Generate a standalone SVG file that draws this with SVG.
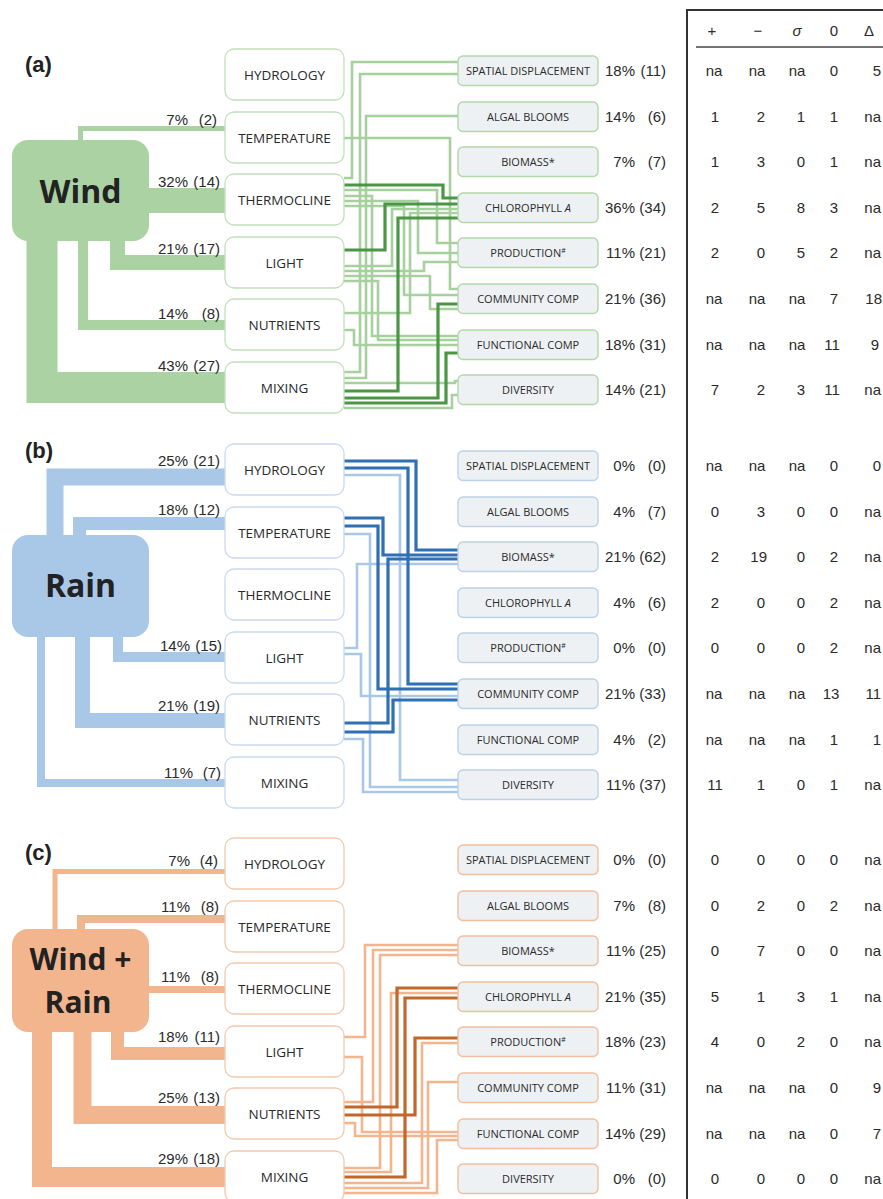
<svg xmlns="http://www.w3.org/2000/svg" width="883" height="1199" viewBox="0 0 883 1199">
<style>
.bg{fill:#ffffff}
.pl{font-family:"Liberation Sans",Arial,sans-serif;font-weight:bold;font-size:22px;fill:#222}
.big{font-family:"Open Sans","Noto Sans",sans-serif;font-weight:bold;fill:#222;text-anchor:middle}
.dn{font-family:"Open Sans","Noto Sans",sans-serif;font-size:13.5px;fill:#2a2a2a;text-anchor:middle}
.rn{font-family:"Open Sans","Noto Sans",sans-serif;font-size:11px;fill:#2a2a2a;text-anchor:middle}
.num{font-family:"Liberation Sans",Arial,sans-serif;font-size:15px;fill:#2a2a2a;text-anchor:end}
.tc{font-family:"Liberation Sans",Arial,sans-serif;font-size:15px;fill:#2a2a2a;text-anchor:middle}
.te{font-family:"Liberation Sans",Arial,sans-serif;font-size:15px;fill:#2a2a2a;text-anchor:end}
.bar{fill:none;stroke-linejoin:miter;stroke-linecap:butt}
.ln{fill:none;stroke-width:2.6;stroke-linejoin:miter}
.dk{fill:none;stroke-width:3.2;stroke-linejoin:miter}
.gA{stroke:#a6d19e}.gD{stroke:#4a9645}
.bA{stroke:#a9c8e8}.bD{stroke:#2f6fb3}
.oA{stroke:#f2b58e}.oD{stroke:#c2672a}
.drvG{fill:#fff;stroke:#c2e0bb;stroke-width:1.3}
.drvB{fill:#fff;stroke:#c8daee;stroke-width:1.3}
.drvO{fill:#fff;stroke:#f3c9ad;stroke-width:1.3}
.resG{fill:#eef1f3;stroke:#b2d8aa;stroke-width:1.4}
.resB{fill:#eef1f3;stroke:#bcd2e8;stroke-width:1.4}
.resO{fill:#eef1f3;stroke:#f0bf9e;stroke-width:1.4}
</style>
<rect class="bg" x="0" y="0" width="883" height="1199"/>

<!-- panel labels -->
<text class="pl" x="25" y="72">(a)</text>
<text class="pl" x="25" y="458">(b)</text>
<text class="pl" x="25" y="860">(c)</text>

<g id="connectors">
<!-- Panel a main bars -->
<g fill="none" stroke="#aad2a2">
<path class="bar" stroke-width="5" d="M80.5,142 V128.5 H227"/>
<path class="bar" stroke-width="25" d="M147,200.5 H227"/>
<path class="bar" stroke-width="15" d="M117.5,239 V262.5 H227"/>
<path class="bar" stroke-width="10" d="M83,239 V325 H227"/>
<path class="bar" stroke-width="31" d="M42,239 V387.5 H227"/>
</g>
<!-- Panel b main bars -->
<g fill="none" stroke="#a9c8e8">
<path class="bar" stroke-width="17" d="M55,537 V477 H227"/>
<path class="bar" stroke-width="13" d="M79.5,537 V523.5 H227"/>
<path class="bar" stroke-width="10" d="M118,635 V657 H227"/>
<path class="bar" stroke-width="15" d="M82.5,635 V720.5 H227"/>
<path class="bar" stroke-width="8" d="M41,635 V783 H227"/>
</g>
<!-- Panel c main bars -->
<g fill="none" stroke="#f2b58e">
<path class="bar" stroke-width="5" d="M55,931 V871.5 H227"/>
<path class="bar" stroke-width="8" d="M81,931 V919 H227"/>
<path class="bar" stroke-width="7" d="M147,989.5 H227"/>
<path class="bar" stroke-width="13" d="M117.5,1030 V1053.5 H227"/>
<path class="bar" stroke-width="18" d="M82.5,1030 V1115 H227"/>
<path class="bar" stroke-width="20" d="M42,1030 V1177 H227"/>
</g>

<!-- Panel a links -->
<g class="ln gA">
<path d="M344,178 H352 V62 H458"/>
<path d="M344,372 H360 V74 H458"/>
<path d="M344,378 H366 V116 H458"/>
<path d="M344,138 H450 V289 H458"/>
<path d="M344,190 H437 V243 H458"/>
<path d="M344,266 H392 V209 H458"/>
<path d="M344,313 H410 V213 H458"/>
<path d="M344,201 H418 V253 H458"/>
<path d="M344,271 H424 V262 H458"/>
<path d="M344,206 H404 V295 H458"/>
<path d="M344,276 H430 V309 H458"/>
<path d="M344,330 H354 V345 H458"/>
<path d="M344,281 H378 V340 H458"/>
<path d="M344,196 H372 V336 H458"/>
<path d="M344,383 H455 V381 H458"/>
<path d="M344,408 H452 V395 H458"/>
</g>
<g class="dk gD">
<path d="M344,185 H443 V198 H458"/>
<path d="M344,250 H385 V204 H458"/>
<path d="M344,391 H398 V218 H458"/>
<path d="M344,398 H438 V304 H458"/>
<path d="M344,403 H446 V353 H458"/>
</g>

<!-- Panel b links -->
<g class="ln bA">
<path d="M344,475 H400 V780 H458"/>
<path d="M344,534 H370 V787 H458"/>
<path d="M344,739 H363 V792 H458"/>
<path d="M344,648 H357 V564 H458"/>
<path d="M344,654 H361 V696 H458"/>
</g>
<g class="dk bD">
<path d="M344,461 H416 V550 H458"/>
<path d="M344,468 H408 V684 H458"/>
<path d="M344,518 H383 V555 H458"/>
<path d="M344,526 H378 V689 H458"/>
<path d="M344,723 H388 V559 H458"/>
<path d="M344,732 H393 V700 H458"/>
</g>

<!-- Panel c links -->
<g class="ln oA">
<path d="M344,1037 H365 V945 H458"/>
<path d="M344,1102 H373 V950 H458"/>
<path d="M344,1168 H380 V955 H458"/>
<path d="M344,1172 H391 V993 H458"/>
<path d="M344,1183 H422 V1043 H458"/>
<path d="M344,1188 H428 V1082 H458"/>
<path d="M344,1193 H437 V1140 H458"/>
<path d="M344,1057 H362 V1132 H458"/>
<path d="M344,1123 H355 V1136 H458"/>
</g>
<g class="dk oD">
<path d="M344,1107 H397 V988 H458"/>
<path d="M344,1115 H415 V1038 H458"/>
<path d="M344,1177 H405 V998 H458"/>
</g>
</g>

<!-- driver (source) boxes -->
<g id="wind"><rect x="12" y="140" width="137" height="101" rx="16" fill="#aad2a2"/><text class="big" x="80.5" y="203" font-size="32">Wind</text></g>
<g id="rain"><rect x="12" y="535" width="137" height="102" rx="16" fill="#a9c8e8"/><text class="big" x="80.5" y="597" font-size="32">Rain</text></g>
<g id="windrain"><rect x="12" y="929" width="137" height="103" rx="16" fill="#f2b58e"/><text class="big" x="80.5" y="970" font-size="30">Wind +</text><text class="big" x="78" y="1013" font-size="30">Rain</text></g>

<!-- bar labels -->
<g id="labels-a">
<text class="num" x="188" y="125">7%</text><text class="num" x="217" y="125">(2)</text>
<text class="num" x="188" y="187">32%</text><text class="num" x="220" y="187">(14)</text>
<text class="num" x="188" y="254">21%</text><text class="num" x="220" y="254">(17)</text>
<text class="num" x="188" y="319">14%</text><text class="num" x="220" y="319">(8)</text>
<text class="num" x="188" y="371">43%</text><text class="num" x="220" y="371">(27)</text>
</g>
<g id="labels-b">
<text class="num" x="188" y="466">25%</text><text class="num" x="220" y="466">(21)</text>
<text class="num" x="188" y="515">18%</text><text class="num" x="220" y="515">(12)</text>
<text class="num" x="190" y="651">14%</text><text class="num" x="222" y="651">(15)</text>
<text class="num" x="188" y="711">21%</text><text class="num" x="220" y="711">(19)</text>
<text class="num" x="193" y="778">11%</text><text class="num" x="221" y="778">(7)</text>
</g>
<g id="labels-c">
<text class="num" x="190" y="866">7%</text><text class="num" x="218" y="866">(4)</text>
<text class="num" x="190" y="912">11%</text><text class="num" x="219" y="912">(8)</text>
<text class="num" x="190" y="982">11%</text><text class="num" x="219" y="982">(8)</text>
<text class="num" x="188" y="1042">18%</text><text class="num" x="220" y="1042">(11)</text>
<text class="num" x="188" y="1103">25%</text><text class="num" x="220" y="1103">(13)</text>
<text class="num" x="188" y="1164">29%</text><text class="num" x="220" y="1164">(18)</text>
</g>

<!-- Panel a drivers -->
<g id="a-hydrology"><rect class="drvG" x="225" y="49" width="119" height="51" rx="9"/><text class="dn" x="284.5" y="79.5">HYDROLOGY</text></g>
<g id="a-temperature"><rect class="drvG" x="225" y="112" width="119" height="51" rx="9"/><text class="dn" x="284.5" y="142.5">TEMPERATURE</text></g>
<g id="a-thermocline"><rect class="drvG" x="225" y="174" width="119" height="51" rx="9"/><text class="dn" x="284.5" y="204.5">THERMOCLINE</text></g>
<g id="a-light"><rect class="drvG" x="225" y="237" width="119" height="51" rx="9"/><text class="dn" x="284.5" y="267.5">LIGHT</text></g>
<g id="a-nutrients"><rect class="drvG" x="225" y="299" width="119" height="51" rx="9"/><text class="dn" x="284.5" y="329.5">NUTRIENTS</text></g>
<g id="a-mixing"><rect class="drvG" x="225" y="362" width="119" height="51" rx="9"/><text class="dn" x="284.5" y="392.5">MIXING</text></g>

<!-- Panel b drivers -->
<g id="b-hydrology"><rect class="drvB" x="225" y="444" width="119" height="51" rx="9"/><text class="dn" x="284.5" y="474.5">HYDROLOGY</text></g>
<g id="b-temperature"><rect class="drvB" x="225" y="507" width="119" height="51" rx="9"/><text class="dn" x="284.5" y="537.5">TEMPERATURE</text></g>
<g id="b-thermocline"><rect class="drvB" x="225" y="569" width="119" height="51" rx="9"/><text class="dn" x="284.5" y="599.5">THERMOCLINE</text></g>
<g id="b-light"><rect class="drvB" x="225" y="632" width="119" height="51" rx="9"/><text class="dn" x="284.5" y="662.5">LIGHT</text></g>
<g id="b-nutrients"><rect class="drvB" x="225" y="694" width="119" height="51" rx="9"/><text class="dn" x="284.5" y="724.5">NUTRIENTS</text></g>
<g id="b-mixing"><rect class="drvB" x="225" y="757" width="119" height="51" rx="9"/><text class="dn" x="284.5" y="787.5">MIXING</text></g>

<!-- Panel c drivers -->
<g id="c-hydrology"><rect class="drvO" x="225" y="838" width="119" height="51" rx="9"/><text class="dn" x="284.5" y="868.5">HYDROLOGY</text></g>
<g id="c-temperature"><rect class="drvO" x="225" y="901" width="119" height="51" rx="9"/><text class="dn" x="284.5" y="931.5">TEMPERATURE</text></g>
<g id="c-thermocline"><rect class="drvO" x="225" y="963" width="119" height="51" rx="9"/><text class="dn" x="284.5" y="993.5">THERMOCLINE</text></g>
<g id="c-light"><rect class="drvO" x="225" y="1026" width="119" height="51" rx="9"/><text class="dn" x="284.5" y="1056.5">LIGHT</text></g>
<g id="c-nutrients"><rect class="drvO" x="225" y="1088" width="119" height="51" rx="9"/><text class="dn" x="284.5" y="1118.5">NUTRIENTS</text></g>
<g id="c-mixing"><rect class="drvO" x="225" y="1151" width="119" height="51" rx="9"/><text class="dn" x="284.5" y="1181.5">MIXING</text></g>

<!-- Panel a responses -->
<g id="a-spatial"><rect class="resG" x="458" y="56" width="140" height="29.5" rx="5"/><text class="rn" x="528" y="75">SPATIAL DISPLACEMENT</text></g>
<g id="a-algal"><rect class="resG" x="458" y="102" width="140" height="29.5" rx="5"/><text class="rn" x="528" y="121">ALGAL BLOOMS</text></g>
<g id="a-biomass"><rect class="resG" x="458" y="147" width="140" height="29.5" rx="5"/><text class="rn" x="528" y="166">BIOMASS*</text></g>
<g id="a-chl"><rect class="resG" x="458" y="193" width="140" height="29.5" rx="5"/><text class="rn" x="528" y="212">CHLOROPHYLL <tspan font-style="italic">A</tspan></text></g>
<g id="a-prod"><rect class="resG" x="458" y="238" width="140" height="29.5" rx="5"/><text class="rn" x="528" y="257">PRODUCTION<tspan font-size="7" dy="-4">#</tspan></text></g>
<g id="a-comm"><rect class="resG" x="458" y="284" width="140" height="29.5" rx="5"/><text class="rn" x="528" y="303">COMMUNITY COMP</text></g>
<g id="a-func"><rect class="resG" x="458" y="330" width="140" height="29.5" rx="5"/><text class="rn" x="528" y="349">FUNCTIONAL COMP</text></g>
<g id="a-div"><rect class="resG" x="458" y="375" width="140" height="29.5" rx="5"/><text class="rn" x="528" y="394">DIVERSITY</text></g>

<!-- Panel b responses -->
<g id="b-spatial"><rect class="resB" x="458" y="451" width="140" height="29.5" rx="5"/><text class="rn" x="528" y="470">SPATIAL DISPLACEMENT</text></g>
<g id="b-algal"><rect class="resB" x="458" y="497" width="140" height="29.5" rx="5"/><text class="rn" x="528" y="516">ALGAL BLOOMS</text></g>
<g id="b-biomass"><rect class="resB" x="458" y="542" width="140" height="29.5" rx="5"/><text class="rn" x="528" y="561">BIOMASS*</text></g>
<g id="b-chl"><rect class="resB" x="458" y="588" width="140" height="29.5" rx="5"/><text class="rn" x="528" y="607">CHLOROPHYLL <tspan font-style="italic">A</tspan></text></g>
<g id="b-prod"><rect class="resB" x="458" y="633" width="140" height="29.5" rx="5"/><text class="rn" x="528" y="652">PRODUCTION<tspan font-size="7" dy="-4">#</tspan></text></g>
<g id="b-comm"><rect class="resB" x="458" y="679" width="140" height="29.5" rx="5"/><text class="rn" x="528" y="698">COMMUNITY COMP</text></g>
<g id="b-func"><rect class="resB" x="458" y="725" width="140" height="29.5" rx="5"/><text class="rn" x="528" y="744">FUNCTIONAL COMP</text></g>
<g id="b-div"><rect class="resB" x="458" y="770" width="140" height="29.5" rx="5"/><text class="rn" x="528" y="789">DIVERSITY</text></g>

<!-- Panel c responses -->
<g id="c-spatial"><rect class="resO" x="458" y="845" width="140" height="29.5" rx="5"/><text class="rn" x="528" y="864">SPATIAL DISPLACEMENT</text></g>
<g id="c-algal"><rect class="resO" x="458" y="891" width="140" height="29.5" rx="5"/><text class="rn" x="528" y="910">ALGAL BLOOMS</text></g>
<g id="c-biomass"><rect class="resO" x="458" y="936" width="140" height="29.5" rx="5"/><text class="rn" x="528" y="955">BIOMASS*</text></g>
<g id="c-chl"><rect class="resO" x="458" y="982" width="140" height="29.5" rx="5"/><text class="rn" x="528" y="1001">CHLOROPHYLL <tspan font-style="italic">A</tspan></text></g>
<g id="c-prod"><rect class="resO" x="458" y="1027" width="140" height="29.5" rx="5"/><text class="rn" x="528" y="1046">PRODUCTION<tspan font-size="7" dy="-4">#</tspan></text></g>
<g id="c-comm"><rect class="resO" x="458" y="1073" width="140" height="29.5" rx="5"/><text class="rn" x="528" y="1092">COMMUNITY COMP</text></g>
<g id="c-func"><rect class="resO" x="458" y="1119" width="140" height="29.5" rx="5"/><text class="rn" x="528" y="1138">FUNCTIONAL COMP</text></g>
<g id="c-div"><rect class="resO" x="458" y="1164" width="140" height="29.5" rx="5"/><text class="rn" x="528" y="1183">DIVERSITY</text></g>

<!-- response percentages -->
<g id="pct">
<text class="num" x="635" y="76">18%</text><text class="num" x="666" y="76">(11)</text>
<text class="num" x="635" y="122">14%</text><text class="num" x="666" y="122">(6)</text>
<text class="num" x="635" y="167">7%</text><text class="num" x="666" y="167">(7)</text>
<text class="num" x="635" y="213">36%</text><text class="num" x="666" y="213">(34)</text>
<text class="num" x="635" y="258">11%</text><text class="num" x="666" y="258">(21)</text>
<text class="num" x="635" y="304">21%</text><text class="num" x="666" y="304">(36)</text>
<text class="num" x="635" y="350">18%</text><text class="num" x="666" y="350">(31)</text>
<text class="num" x="635" y="395">14%</text><text class="num" x="666" y="395">(21)</text>

<text class="num" x="635" y="471">0%</text><text class="num" x="666" y="471">(0)</text>
<text class="num" x="635" y="517">4%</text><text class="num" x="666" y="517">(7)</text>
<text class="num" x="635" y="562">21%</text><text class="num" x="666" y="562">(62)</text>
<text class="num" x="635" y="608">4%</text><text class="num" x="666" y="608">(6)</text>
<text class="num" x="635" y="653">0%</text><text class="num" x="666" y="653">(0)</text>
<text class="num" x="635" y="699">21%</text><text class="num" x="666" y="699">(33)</text>
<text class="num" x="635" y="745">4%</text><text class="num" x="666" y="745">(2)</text>
<text class="num" x="635" y="790">11%</text><text class="num" x="666" y="790">(37)</text>

<text class="num" x="635" y="865">0%</text><text class="num" x="666" y="865">(0)</text>
<text class="num" x="635" y="911">7%</text><text class="num" x="666" y="911">(8)</text>
<text class="num" x="635" y="956">11%</text><text class="num" x="666" y="956">(25)</text>
<text class="num" x="635" y="1002">21%</text><text class="num" x="666" y="1002">(35)</text>
<text class="num" x="635" y="1047">18%</text><text class="num" x="666" y="1047">(23)</text>
<text class="num" x="635" y="1093">11%</text><text class="num" x="666" y="1093">(31)</text>
<text class="num" x="635" y="1139">14%</text><text class="num" x="666" y="1139">(29)</text>
<text class="num" x="635" y="1184">0%</text><text class="num" x="666" y="1184">(0)</text>
</g>

<!-- table -->
<g id="table">
<rect x="687" y="10" width="260" height="1260" fill="none" stroke="#333" stroke-width="2"/>
<line x1="696" y1="47" x2="883" y2="47" stroke="#444" stroke-width="1.5"/>
<text class="tc" x="712" y="36">+</text>
<text class="tc" x="758" y="36">−</text>
<text class="tc" x="797" y="36" font-style="italic" font-family="Liberation Serif, serif" font-size="17">σ</text>
<text class="tc" x="834" y="36">0</text>
<text class="tc" x="869" y="36">Δ</text>
</g>
<g id="table-values">
<!-- panel a -->
<g transform="translate(0,76)"><text class="tc" x="714">na</text><text class="tc" x="757">na</text><text class="tc" x="797">na</text><text class="tc" x="834">0</text><text class="te" x="881">5</text></g>
<g transform="translate(0,122)"><text class="tc" x="715">1</text><text class="te" x="765">2</text><text class="te" x="805">1</text><text class="tc" x="834">1</text><text class="te" x="881">na</text></g>
<g transform="translate(0,167)"><text class="tc" x="715">1</text><text class="te" x="765">3</text><text class="te" x="805">0</text><text class="tc" x="834">1</text><text class="te" x="881">na</text></g>
<g transform="translate(0,213)"><text class="tc" x="715">2</text><text class="te" x="765">5</text><text class="te" x="805">8</text><text class="tc" x="834">3</text><text class="te" x="881">na</text></g>
<g transform="translate(0,258)"><text class="tc" x="715">2</text><text class="te" x="765">0</text><text class="te" x="805">5</text><text class="tc" x="834">2</text><text class="te" x="881">na</text></g>
<g transform="translate(0,304)"><text class="tc" x="714">na</text><text class="tc" x="757">na</text><text class="tc" x="797">na</text><text class="tc" x="834">7</text><text class="te" x="882">18</text></g>
<g transform="translate(0,350)"><text class="tc" x="714">na</text><text class="tc" x="757">na</text><text class="tc" x="797">na</text><text class="tc" x="832">11</text><text class="te" x="879">9</text></g>
<g transform="translate(0,395)"><text class="tc" x="715">7</text><text class="te" x="765">2</text><text class="te" x="805">3</text><text class="tc" x="832">11</text><text class="te" x="881">na</text></g>
<!-- panel b -->
<g transform="translate(0,471)"><text class="tc" x="714">na</text><text class="tc" x="757">na</text><text class="tc" x="797">na</text><text class="tc" x="834">0</text><text class="te" x="881">0</text></g>
<g transform="translate(0,517)"><text class="tc" x="715">0</text><text class="te" x="765">3</text><text class="te" x="805">0</text><text class="tc" x="834">0</text><text class="te" x="881">na</text></g>
<g transform="translate(0,562)"><text class="tc" x="715">2</text><text class="te" x="767">19</text><text class="te" x="805">0</text><text class="tc" x="834">2</text><text class="te" x="881">na</text></g>
<g transform="translate(0,608)"><text class="tc" x="715">2</text><text class="te" x="765">0</text><text class="te" x="805">0</text><text class="tc" x="834">2</text><text class="te" x="881">na</text></g>
<g transform="translate(0,653)"><text class="tc" x="715">0</text><text class="te" x="765">0</text><text class="te" x="805">0</text><text class="tc" x="834">2</text><text class="te" x="881">na</text></g>
<g transform="translate(0,699)"><text class="tc" x="714">na</text><text class="tc" x="757">na</text><text class="tc" x="797">na</text><text class="tc" x="831">13</text><text class="te" x="881">11</text></g>
<g transform="translate(0,745)"><text class="tc" x="714">na</text><text class="tc" x="757">na</text><text class="tc" x="797">na</text><text class="tc" x="834">1</text><text class="te" x="881">1</text></g>
<g transform="translate(0,790)"><text class="tc" x="715">11</text><text class="te" x="765">1</text><text class="te" x="805">0</text><text class="tc" x="834">1</text><text class="te" x="881">na</text></g>
<!-- panel c -->
<g transform="translate(0,865)"><text class="tc" x="715">0</text><text class="te" x="765">0</text><text class="te" x="805">0</text><text class="tc" x="834">0</text><text class="te" x="881">na</text></g>
<g transform="translate(0,911)"><text class="tc" x="715">0</text><text class="te" x="765">2</text><text class="te" x="805">0</text><text class="tc" x="834">2</text><text class="te" x="881">na</text></g>
<g transform="translate(0,956)"><text class="tc" x="715">0</text><text class="te" x="765">7</text><text class="te" x="805">0</text><text class="tc" x="834">0</text><text class="te" x="881">na</text></g>
<g transform="translate(0,1002)"><text class="tc" x="715">5</text><text class="te" x="765">1</text><text class="te" x="805">3</text><text class="tc" x="834">1</text><text class="te" x="881">na</text></g>
<g transform="translate(0,1047)"><text class="tc" x="715">4</text><text class="te" x="765">0</text><text class="te" x="805">2</text><text class="tc" x="834">0</text><text class="te" x="881">na</text></g>
<g transform="translate(0,1093)"><text class="tc" x="714">na</text><text class="tc" x="757">na</text><text class="tc" x="797">na</text><text class="tc" x="834">0</text><text class="te" x="881">9</text></g>
<g transform="translate(0,1139)"><text class="tc" x="714">na</text><text class="tc" x="757">na</text><text class="tc" x="797">na</text><text class="tc" x="834">0</text><text class="te" x="881">7</text></g>
<g transform="translate(0,1184)"><text class="tc" x="715">0</text><text class="te" x="765">0</text><text class="te" x="805">0</text><text class="tc" x="834">0</text><text class="te" x="881">na</text></g>
</g>
</svg>
